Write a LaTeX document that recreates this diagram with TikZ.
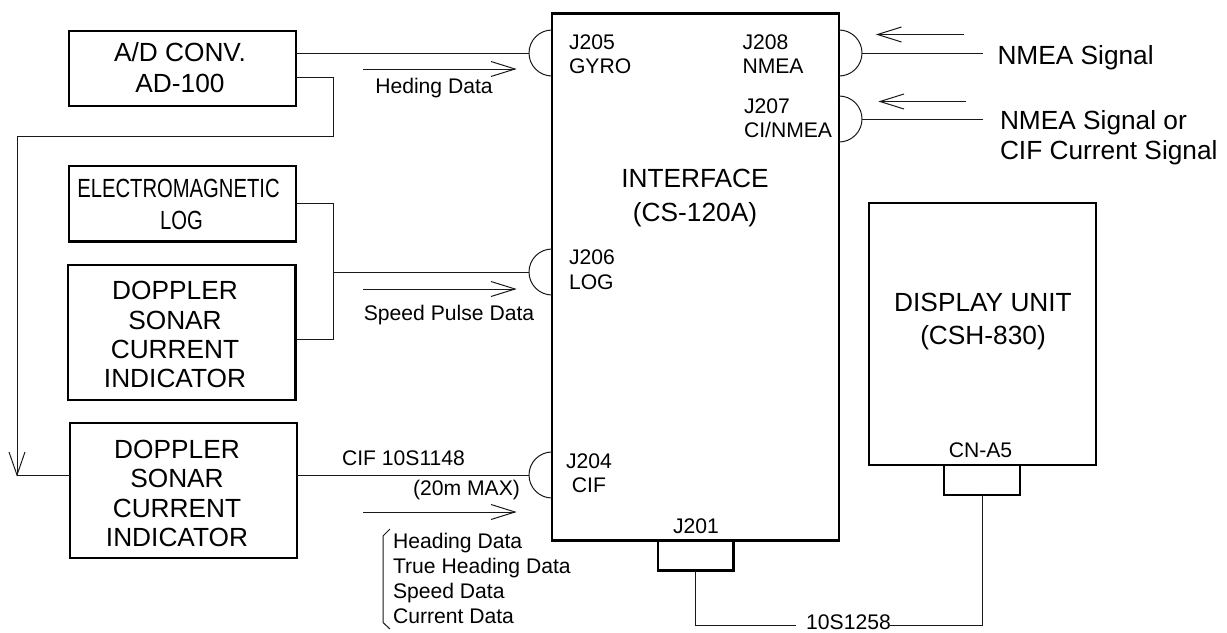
\documentclass[tikz,border=0pt]{standalone}
\usepackage{fontspec}
\setmainfont{Liberation Sans}
\newcommand{\bigfont}{\fontsize{19.7pt}{23pt}\selectfont}
\newcommand{\smallfont}{\fontsize{15.85pt}{19pt}\selectfont}
\usetikzlibrary{calc}
\tikzset{
  thickbox/.style={draw=black,line width=1.9pt,fill=none,inner sep=0pt,outer sep=0pt},
  wire/.style={draw=black!90,line width=0.75pt},
  headline/.style={draw=black!90,line width=0.75pt,line join=miter},
  lab/.style={inner sep=0pt,outer sep=0pt,anchor=base,text=black,font=\bigfont,yshift=-7pt},
  labw/.style={lab,anchor=base west},
  slab/.style={inner sep=0pt,outer sep=0pt,anchor=base,text=black,font=\smallfont,yshift=-5.6pt},
  slabw/.style={slab,anchor=base west},
}
% box: name, left, top, right, bottom
\newcommand{\boxnode}[5]{\node[thickbox,minimum width={(#4-#2)*0.75pt},minimum height={(#5-#3)*0.75pt}] (#1) at ({(#2+#4)/2},{(#3+#5)/2}) {};}
% open arrow: name prefix, x tail, x tip, y
\newcommand{\openarrow}[4]{%
  \coordinate (#1t) at (#2,#4); \coordinate (#1h) at (#3,#4);
  \draw[headline] (#1t) -- (#1h);
  \draw[headline] ($(#1h)+({(#2>#3 ? 24 : -24)},-7.5)$) -- (#1h) -- ($(#1h)+({(#2>#3 ? 24 : -24)},7.5)$);}
\begin{document}
\begin{tikzpicture}[x=0.75pt,y=-0.75pt]
\useasboundingbox (0,0) rectangle (1227,632);
\fill[white] (0,0) rectangle (1227,632);

% boxes
\boxnode{ad}{69}{31}{296}{106}
\boxnode{em}{69}{166}{296}{241.5}
\boxnode{dop1}{68}{265}{295.5}{400}
\boxnode{dop2}{70}{423}{297}{558}
\boxnode{iface}{552}{13.5}{839}{540.5}
\boxnode{disp}{869}{203}{1096}{465}
\boxnode{jb}{658}{540.5}{733.5}{570.5}
\boxnode{cn}{944}{465}{1020}{495}

% connector coordinates
\coordinate (j205) at (529,53);
\coordinate (j206) at (529,272);
\coordinate (j204) at (529,475);
\coordinate (j208) at (862,53);
\coordinate (j207) at (862,119);
\coordinate (n1) at (982.5,53);
\coordinate (n2) at (983,119);
\coordinate (bus) at (333,272);
\coordinate (left) at (17,475);

% semicircle sockets
\draw[wire] (552,30) arc[start angle=90,end angle=270,x radius=23,y radius=-23];
\draw[wire] (552,249) arc[start angle=90,end angle=270,x radius=23,y radius=-23];
\draw[wire] (552,452) arc[start angle=90,end angle=270,x radius=23,y radius=-23];
\draw[wire] (839,30) arc[start angle=90,end angle=-90,x radius=23,y radius=-23];
\draw[wire] (839,96) arc[start angle=90,end angle=-90,x radius=23,y radius=-23];

% connectors
\draw[wire] (ad.east |- j205) -- (j205);
\draw[wire] ($(ad.east)+(0,8.5)$) -| (333,136) -- (17,136) -- (left);
\draw[wire] (left) -- (dop2.west |- left);
\draw[headline] (9,452) -- (left) -- (25,452);
\draw[wire] (em.east) -| (bus);
\draw[wire] (dop1.east |- 0,339) -| (bus);
\draw[wire] (bus) -- (j206);
\draw[wire] (dop2.east |- j204) -- (j204);
\draw[wire] (j208) -- (n1);
\draw[wire] (j207) -- (n2);
\draw[wire] (jb.south) |- (795.5,625.5);
\draw[wire] (cn.south) |- (890,625.5);

% signal arrows
\openarrow{a}{363}{515}{69}
\openarrow{b}{363}{515}{289}
\openarrow{c}{363}{515}{512}
\openarrow{d}{964}{877.5}{34.5}
\openarrow{e}{966}{880}{101.5}

% bracket
\draw[wire] (390,529) -- (383,536) -- (383,622.5) -- (390,629);

% box labels
\node[lab] (t1) at (180,52) {A/D CONV.};
\node[lab] (t2) at (180,83) {AD-100};
\node[lab,xscale=.77] (t3) at (178.5,188) {ELECTROMAGNETIC};
\node[lab,xscale=.77] (t4) at (181.5,220) {LOG};
\node[lab] (t5) at (175,290) {DOPPLER};
\node[lab] (t6) at (175,320) {SONAR};
\node[lab] (t7) at (175,349) {CURRENT};
\node[lab] (t8) at (175,378) {INDICATOR};
\node[lab] (t9) at (177,449) {DOPPLER};
\node[lab] (t10) at (177,478) {SONAR};
\node[lab] (t11) at (177,508) {CURRENT};
\node[lab] (t12) at (177,537) {INDICATOR};
\node[lab] (t13) at (695,178) {INTERFACE};
\node[lab] (t14) at (695,212) {(CS-120A)};
\node[lab] (t15) at (983,302) {DISPLAY UNIT};
\node[lab] (t16) at (983,335) {(CSH-830)};
\node[labw] (t17) at (997.5,55) {NMEA Signal};
\node[labw] (t18) at (1000,120) {NMEA Signal or};
\node[labw] (t19) at (1000,150) {CIF Current Signal};

% socket labels
\node[slabw] (s1) at (569,42) {J205};
\node[slabw] (s2) at (569,66) {GYRO};
\node[slabw] (s3) at (742.5,42) {J208};
\node[slabw] (s4) at (742.5,66) {NMEA};
\node[slabw] (s5) at (744,106) {J207};
\node[slabw] (s6) at (744,130) {CI/NMEA};
\node[slabw] (s7) at (569,257) {J206};
\node[slabw] (s8) at (569,282) {LOG};
\node[slab] (s9) at (589,461) {J204};
\node[slab] (s10) at (589,485) {CIF};
\node[slab] (s11) at (696,526) {J201};
\node[slab] (s12) at (980.5,450) {CN-A5};

% data labels
\node[slab] (d1) at (434,86) {Heding Data};
\node[slab] (d2) at (449,313) {Speed Pulse Data};
\node[slab] (d3) at (403.5,458) {CIF 10S1148};
\node[slab] (d4) at (466.5,488) {(20m MAX)};
\node[slabw] (d5) at (393,541.5) {Heading Data};
\node[slabw] (d6) at (393,566.5) {True Heading Data};
\node[slabw] (d7) at (393,591.5) {Speed Data};
\node[slabw] (d8) at (393,616.5) {Current Data};
\node[slab] (d9) at (848.5,622.5) {10S1258};
\end{tikzpicture}
\end{document}
